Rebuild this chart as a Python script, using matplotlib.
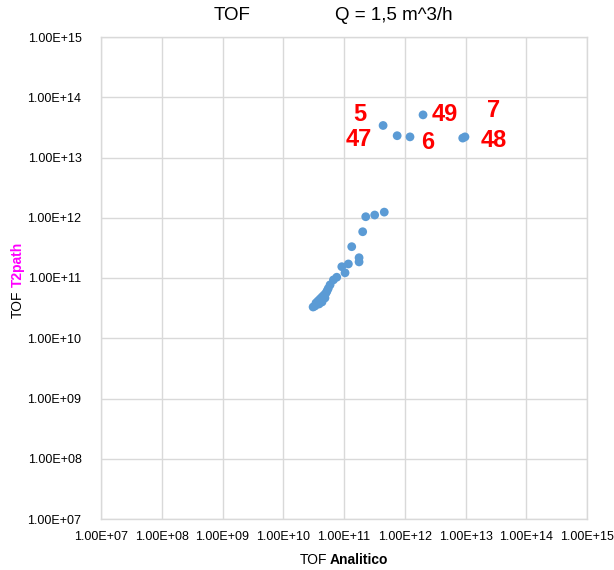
import matplotlib
matplotlib.use("Agg")
import matplotlib.pyplot as plt
from matplotlib.ticker import FixedLocator, FuncFormatter

# Data
tof_analitico = [
    3.10e10, 3.33e10, 3.46e10, 3.73e10, 3.88e10, 4.03e10, 4.35e10, 4.35e10,
    4.69e10, 4.86e10, 5.06e10, 5.25e10, 5.50e10, 5.90e10, 6.70e10, 7.60e10,
    1.04e11, 9.20e10, 1.18e11, 1.77e11, 1.77e11, 1.34e11, 2.03e11, 2.28e11,
    3.20e11, 4.60e11,
    4.40e11, 7.50e11, 1.22e12, 2.00e12, 9.00e12, 9.80e12,
]
tof_t2path = [
    3.30e10, 3.43e10, 3.85e10, 4.15e10, 3.70e10, 4.48e10, 4.84e10, 4.00e10,
    5.22e10, 4.66e10, 5.64e10, 6.08e10, 6.70e10, 7.70e10, 9.30e10, 1.03e11,
    1.22e11, 1.54e11, 1.71e11, 1.85e11, 2.17e11, 3.31e11, 5.86e11, 1.04e12,
    1.11e12, 1.24e12,
    3.40e13, 2.30e13, 2.20e13, 5.10e13, 2.10e13, 2.20e13,
]
point_labels = ["5", "49", "7", "47", "6", "48"]
label_x = [1.80e11, 4.6e12, 2.87e13, 1.77e11, 2.35e12, 2.87e13]
label_y = [5.1e13, 5.2e13, 6.0e13, 2.0e13, 1.79e13, 1.9e13]
tick_values = [1e7, 1e8, 1e9, 1e10, 1e11, 1e12, 1e13, 1e14, 1e15]

plt.rcParams['font.family'] = ['Liberation Sans', 'DejaVu Sans']

fig = plt.figure(figsize=(6.14, 5.70), dpi=100)
ax = fig.add_axes([101/614, 1 - 519/570, (587 - 101)/614, (519 - 37)/570])

ax.scatter(tof_analitico, tof_t2path, s=40, color='#5B9BD5', edgecolors='none', zorder=3)

ax.set_xscale('log')
ax.set_yscale('log')
ax.set_xlim(tick_values[0], tick_values[-1])
ax.set_ylim(tick_values[0], tick_values[-1])

fmt = FuncFormatter(lambda v, p: "{:.2E}".format(v))
ax.xaxis.set_major_locator(FixedLocator(tick_values))
ax.yaxis.set_major_locator(FixedLocator(tick_values))
ax.xaxis.set_minor_locator(FixedLocator([]))
ax.yaxis.set_minor_locator(FixedLocator([]))
ax.xaxis.set_major_formatter(fmt)
ax.yaxis.set_major_formatter(fmt)
ax.tick_params(axis='both', length=0, labelsize=9, colors='#000000')
ax.tick_params(axis='x', pad=9)
ax.tick_params(axis='y', pad=14)

ax.grid(True, color='#D9D9D9', linewidth=1.0, zorder=0)
ax.set_axisbelow(True)
for sp in ax.spines.values():
    sp.set_color('#D9D9D9')
    sp.set_linewidth(1.0)

for t, lx, ly in zip(point_labels, label_x, label_y):
    ax.text(lx, ly, t, color='#FF0000', fontsize=17, fontweight='bold',
            ha='center', va='center', zorder=4)

# Title
fig.text(232/614, 1 - 16/570, "TOF", fontsize=13.5, ha='center', va='center')
fig.text(394/614, 1 - 16/570, "Q = 1,5 m^3/h", fontsize=13.5, ha='center', va='center')

# X label
fig.text(327/614, 1 - 560/570, "TOF", fontsize=10, ha='right', va='center')
fig.text(330/614, 1 - 560/570, "Analitico", fontsize=10, fontweight='bold', ha='left', va='center')

# Y label
fig.text(18/614, 1 - 290/570, "TOF", fontsize=10, rotation=90, ha='center', va='top')
fig.text(18/614, 1 - 287/570, "T2path", fontsize=10, fontweight='bold', color='#FF00FF',
         rotation=90, ha='center', va='bottom')

fig.savefig("out.png", dpi=100)
